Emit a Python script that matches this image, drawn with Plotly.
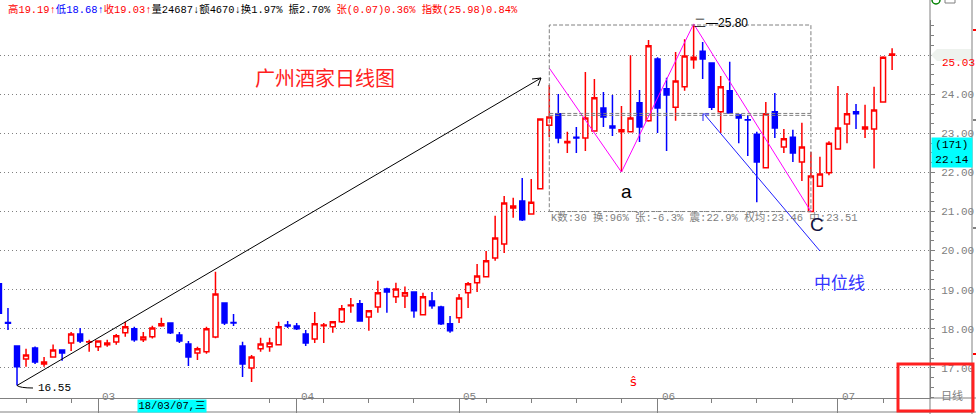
import plotly.graph_objects as go

# ---------------- data ----------------
opens = [19.15, 18.16, 17.56, 17.23, 17.51, 17.10, 17.28, 17.46, 17.64, 17.87,
         17.66, 17.54, 17.59, 17.66, 17.90, 18.00, 17.72, 17.80, 18.08, 18.15,
         17.84, 17.61, 17.38, 17.41, 17.79, 18.66, 18.16, 17.56, 17.00, 17.49,
         17.54, 17.59, 18.10, 18.07, 17.87, 17.74, 18.08, 18.05, 18.18, 18.59,
         18.64, 18.30, 18.56, 19.02, 18.82, 18.84, 18.94, 18.36, 18.71, 18.56,
         18.13, 18.28, 18.92, 19.18, 19.33, 19.81, 20.17, 21.09, 21.27, 20.94,
         21.58, 23.21, 23.50, 22.76, 22.90, 22.88, 23.06, 23.65, 23.19, 23.04,
         23.04, 23.78, 23.32, 24.90, 24.14, 23.67, 24.19, 24.88, 25.10, 24.80,
         23.55, 24.09, 23.47, 23.35, 22.98, 22.12, 23.55, 22.65, 22.90, 22.27,
         21.00, 21.65, 21.99, 22.60, 23.24, 23.55, 23.11, 23.11, 23.80, 25.00]
highs = [19.20, 18.53, 17.56, 17.49, 17.55, 17.28, 17.60, 17.46, 17.92, 18.02,
         17.72, 17.70, 17.72, 17.87, 18.18, 18.05, 17.92, 18.08, 18.28, 18.15,
         17.92, 17.69, 17.54, 18.05, 19.46, 18.66, 18.38, 17.67, 17.33, 17.77,
         17.77, 18.18, 18.20, 18.15, 17.97, 18.43, 18.15, 18.18, 18.61, 18.79,
         18.74, 18.48, 19.23, 19.05, 19.18, 19.08, 18.94, 18.92, 18.94, 18.59,
         18.33, 18.89, 19.20, 19.66, 19.99, 20.89, 21.40, 21.35, 21.86, 21.83,
         23.37, 24.24, 24.01, 23.04, 23.16, 24.57, 24.39, 24.06, 23.98, 23.70,
         25.00, 24.11, 25.39, 24.95, 24.42, 25.08, 25.41, 25.80, 25.34, 24.80,
         24.47, 24.83, 23.47, 23.47, 23.04, 23.80, 24.03, 23.11, 23.09, 23.27,
         22.52, 22.40, 22.80, 24.21, 24.03, 23.75, 23.73, 24.19, 24.97, 25.18]
lows = [18.40, 17.97, 16.55, 17.03, 17.10, 17.03, 17.28, 17.18, 17.43, 17.64,
        17.41, 17.43, 17.54, 17.59, 17.80, 17.67, 17.66, 17.75, 18.05, 17.87,
        17.64, 17.05, 17.20, 17.36, 17.76, 18.10, 18.07, 16.77, 16.64, 17.41,
        17.41, 17.59, 18.02, 17.97, 17.56, 17.64, 17.64, 17.90, 18.15, 18.41,
        18.18, 17.95, 18.41, 18.41, 18.66, 18.53, 18.28, 18.36, 18.51, 18.10,
        17.90, 18.15, 18.53, 18.94, 19.33, 19.74, 19.94, 20.84, 20.76, 20.94,
        21.58, 22.91, 22.75, 22.50, 22.50, 22.55, 23.06, 23.16, 22.93, 22.01,
        23.04, 22.78, 23.30, 23.01, 22.55, 23.32, 24.09, 24.65, 24.39, 23.60,
        23.01, 23.50, 22.75, 22.42, 21.24, 22.12, 22.88, 22.50, 22.27, 21.78,
        21.00, 21.65, 21.93, 22.60, 22.75, 23.11, 22.88, 22.10, 23.80, 24.62]
closes = [18.40, 18.14, 17.03, 17.33, 17.15, 17.15, 17.46, 17.38, 17.87, 17.69,
          17.67, 17.69, 17.64, 17.82, 18.05, 17.72, 17.79, 18.02, 18.13, 17.90,
          17.69, 17.28, 17.49, 18.00, 18.89, 18.15, 18.15, 17.10, 17.28, 17.61,
          17.64, 18.05, 18.07, 18.00, 17.64, 18.13, 18.10, 18.18, 18.51, 18.61,
          18.20, 18.46, 18.92, 18.94, 19.02, 18.92, 18.46, 18.82, 18.59, 18.13,
          17.95, 18.79, 19.15, 19.35, 19.74, 20.32, 21.22, 21.14, 20.79, 21.24,
          23.37, 23.42, 22.88, 22.79, 22.88, 23.39, 23.91, 23.42, 23.14, 23.09,
          23.39, 23.16, 25.24, 23.65, 23.98, 24.34, 24.98, 24.95, 24.90, 23.67,
          24.19, 23.52, 23.39, 23.34, 22.27, 23.50, 23.14, 22.86, 22.50, 22.65,
          21.91, 21.96, 22.75, 23.14, 23.50, 23.50, 23.16, 23.60, 24.95, 25.03]
idx = list(range(len(opens)))

month_labels = ["03", "04", "05", "06", "07"]
month_pos = [11, 33, 51, 73, 93]
week_pos = [3, 8, 20, 30, 36, 41, 46, 54, 59, 64, 69, 79, 84, 88, 98]
price_ticks = [17, 18, 19, 20, 21, 22, 23, 24, 25]
price_text = ["17.00", "18.00", "19.00", "20.00", "21.00", "22.00", "23.00", "24.00", ""]

box_start, box_end = 61, 90          # 30-bar statistics window
zig_start_price = 24.67
avg_w, avg_mid = 23.46, 23.51

# ---------------- geometry helpers ----------------
W, H = 976, 414
L, R, T, B = 0, 46, 20, 16
PW, PH = W - L - R, H - T - B
X0, X1 = 0.115, 103.2
Y0, Y1 = 16.23, 25.90

def dx(px): return X0 + (px - L) / PW * (X1 - X0)
def dy(py): return Y1 - (py - T) / PH * (Y1 - Y0)
def xp(px): return (px - L) / PW
def yp(py): return (H - B - py) / PH

GRAY = "#808080"
MONO = "Liberation Mono, Noto Sans CJK SC, monospace"
CJK = "Noto Sans CJK SC, sans-serif"

fig = go.Figure()
fig.add_trace(go.Candlestick(
    x=idx, open=opens, high=highs, low=lows, close=closes,
    increasing=dict(line=dict(color="#ff0000", width=1.5), fillcolor="#ffffff"),
    decreasing=dict(line=dict(color="#0000ff", width=1.5), fillcolor="#0000ff"),
    whiskerwidth=0, showlegend=False, hoverinfo="skip"))

# zigzag a-b-c
seg = range(box_start, box_end + 1)
a_i = min(range(box_start, 78), key=lambda i: lows[i])
b_i = max(seg, key=lambda i: highs[i])
c_i = min(range(b_i, box_end + 1), key=lambda i: lows[i])
fig.add_trace(go.Scatter(
    x=[box_start, a_i, b_i, c_i], y=[zig_start_price, lows[a_i], highs[b_i], lows[c_i]],
    mode="lines", line=dict(color="#ff00ff", width=1), showlegend=False, hoverinfo="skip"))

low_i = min(idx, key=lambda i: lows[i])

shapes = []
# stats rectangle
shapes.append(dict(type="rect", x0=box_start, x1=box_end, y0=lows[c_i], y1=dy(25),
                   line=dict(color=GRAY, width=1, dash="4px,2px"), layer="above"))
for v in (avg_w, avg_mid):
    shapes.append(dict(type="line", x0=box_start, x1=box_end, y0=v, y1=v,
                       line=dict(color=GRAY, width=1, dash="4px,2px")))
# black trend arrow
shapes.append(dict(type="line", x0=low_i, y0=lows[low_i], x1=dx(541), y1=dy(78),
                   line=dict(color="#000000", width=1)))
shapes.append(dict(type="path",
                   path=f"M {dx(532)},{dy(79)} L {dx(541)},{dy(78)} L {dx(538)},{dy(86)}",
                   line=dict(color="#000000", width=1)))
shapes.append(dict(type="path",
                   path=f"M {low_i},{lows[low_i]} Q {dx(20)},{dy(388)} {dx(33)},{dy(388)}",
                   line=dict(color="#000000", width=1)))
# blue median pointer
shapes.append(dict(type="line", x0=dx(705), y0=dy(115), x1=dx(820), y1=dy(251),
                   line=dict(color="#2020ff", width=1)))
shapes.append(dict(type="path",
                   path=f"M {dx(703)},{dy(121)} L {dx(703)},{dy(114)} L {dx(709)},{dy(114)}",
                   line=dict(color="#2020ff", width=1)))
# frame lines
shapes.append(dict(type="line", xref="paper", yref="paper", x0=xp(930), x1=xp(930),
                   y0=yp(0), y1=yp(414), line=dict(color=GRAY, width=1)))
shapes.append(dict(type="line", xref="paper", yref="paper", x0=xp(972), x1=xp(972),
                   y0=yp(0), y1=yp(414), line=dict(color=GRAY, width=1)))
shapes.append(dict(type="line", xref="paper", yref="paper", x0=xp(930), x1=xp(976),
                   y0=yp(398), y1=yp(398), line=dict(color=GRAY, width=1)))
shapes.append(dict(type="line", xref="paper", yref="paper", x0=xp(0), x1=xp(976),
                   y0=yp(412), y1=yp(412), line=dict(color=GRAY, width=1)))
for py, col in ((30, "#ff0000"), (354, "#ff0000"), (120, GRAY), (228, GRAY)):
    shapes.append(dict(type="line", xref="paper", yref="paper", x0=xp(973), x1=xp(976),
                       y0=yp(py), y1=yp(py), line=dict(color=col, width=2)))
# current-price tag background
shapes.append(dict(type="path", xref="paper", yref="paper",
                   path=(f"M {xp(931)},{yp(55)} L {xp(937)},{yp(49)} L {xp(971)},{yp(49)} "
                         f"L {xp(971)},{yp(61)} L {xp(937)},{yp(61)} Z"),
                   fillcolor="#eef2ee", line=dict(width=0), layer="above"))
# red highlight box
shapes.append(dict(type="rect", xref="paper", yref="paper", x0=xp(898), x1=xp(973),
                   y0=yp(411), y1=yp(364), line=dict(color="#ff2020", width=3), layer="above"))
# top-right small icons
shapes.append(dict(type="circle", xref="paper", yref="paper", x0=xp(932), x1=xp(940),
                   y0=yp(4), y1=yp(-4), line=dict(color="#008000", width=1.5)))
shapes.append(dict(type="rect", xref="paper", yref="paper", x0=xp(945), x1=xp(955),
                   y0=yp(3), y1=yp(-6), line=dict(color=GRAY, width=1)))

ann = []
header = ("<span style='color:#ff0000'>高19.19↑</span>"
          "<span style='color:#0000ff'>低18.68↑</span>"
          "<span style='color:#ff0000'>收19.03↑</span>"
          "<span style='color:#000000'>量24687↓额4670↓换1.97% 振2.70% </span>"
          "<span style='color:#ff0000'>张(0.07)0.36% 指数(25.98)0.84%</span>")
ann.append(dict(text=header, xref="paper", yref="paper", x=xp(6), y=yp(10),
                xanchor="left", yanchor="middle", showarrow=False,
                font=dict(family=MONO, size=10.4)))
ann.append(dict(text="广州酒家日线图", xref="paper", yref="paper", x=xp(325), y=yp(61),
                showarrow=False, font=dict(family=CJK, size=20, color="#ff2020")))
ann.append(dict(text="二—25.80", x=b_i, xshift=-2, y=dy(23), xanchor="left",
                showarrow=False, font=dict(family="Liberation Sans", size=12, color="#000000")))
ann.append(dict(text="K数:30 换:96% 张:-6.3% 震:22.9% 权均:23.46 中:23.51",
                x=box_start, y=dy(217), xanchor="left", showarrow=False,
                font=dict(family=MONO, size=10.5, color=GRAY)))
ann.append(dict(text="a", x=dx(626), y=dy(191), showarrow=False,
                font=dict(family="Liberation Sans", size=19, color="#000000")))
ann.append(dict(text="C", x=dx(817), y=dy(224), showarrow=False,
                font=dict(family="Liberation Sans", size=19, color="#101040")))
ann.append(dict(text="中位线", x=dx(839), y=dy(281), showarrow=False,
                font=dict(family=CJK, size=17, color="#3333ff")))
ann.append(dict(text="16.55", x=dx(36), y=dy(388), xanchor="left", showarrow=False,
                font=dict(family=MONO, size=11, color="#000000")))
ann.append(dict(text="25.03", xref="paper", yref="paper", x=xp(940), y=yp(55),
                xanchor="left", showarrow=False,
                font=dict(family=MONO, size=11, color="#ff0000")))
ann.append(dict(text="(171)<br>22.14", xref="paper", yref="paper", x=xp(931), y=yp(137),
                xanchor="left", yanchor="top", showarrow=False, bgcolor="#00ffff",
                width=40, height=29, borderpad=0,
                font=dict(family=MONO, size=11, color="#000000")))
ann.append(dict(text="18/03/07,三", xref="paper", yref="paper", x=xp(137), y=yp(399),
                xanchor="left", yanchor="top", showarrow=False, bgcolor="#00ffff",
                width=68, height=12, borderpad=0,
                font=dict(family=MONO, size=10.5, color="#000000")))
for lab, pos in zip(month_labels, month_pos):
    ann.append(dict(text=lab, x=pos, xshift=2, y=yp(405), yref="paper", xanchor="left",
                    showarrow=False, font=dict(family=MONO, size=11, color=GRAY)))
ann.append(dict(text="ŝ", xref="paper", yref="paper", x=xp(639), y=yp(391),
                showarrow=False, font=dict(family="DejaVu Sans", size=13, color="#ff0000")))
ann.append(dict(text="日线", xref="paper", yref="paper", x=xp(939), y=yp(405),
                xanchor="left", showarrow=False, font=dict(family=CJK, size=11, color=GRAY)))

fig.update_layout(
    width=W, height=H, margin=dict(l=L, r=R, t=T, b=B),
    paper_bgcolor="#ffffff", plot_bgcolor="#ffffff", boxgap=0.22,
    showlegend=False, shapes=shapes, annotations=ann,
    xaxis=dict(range=[X0, X1], showgrid=False, zeroline=False, showline=True,
               linecolor=GRAY, linewidth=1, tickmode="array", tickvals=month_pos,
               showticklabels=False, ticks="outside", ticklen=14, tickcolor=GRAY,
               minor=dict(tickmode="array", tickvals=week_pos, ticks="outside",
                          ticklen=4, tickcolor=GRAY),
               rangeslider=dict(visible=False), fixedrange=True),
    yaxis=dict(range=[Y0, Y1], side="right", tickmode="array", tickvals=price_ticks,
               ticktext=price_text, showgrid=True, gridcolor=GRAY, griddash="1px,3px",
               gridwidth=1, zeroline=False, showline=True, linecolor=GRAY,
               ticks="outside", ticklen=4, tickcolor=GRAY, ticklabelstandoff=4,
               tickfont=dict(family=MONO, size=11, color=GRAY),
               minor=dict(tickmode="linear", tick0=0, dtick=0.25, ticks="outside",
                          ticklen=3, tickcolor=GRAY, showgrid=False),
               fixedrange=True),
)
fig.write_html("out.html", config={"displayModeBar": False},
               post_script="document.body.style.margin='0';document.body.style.overflow='hidden';")
